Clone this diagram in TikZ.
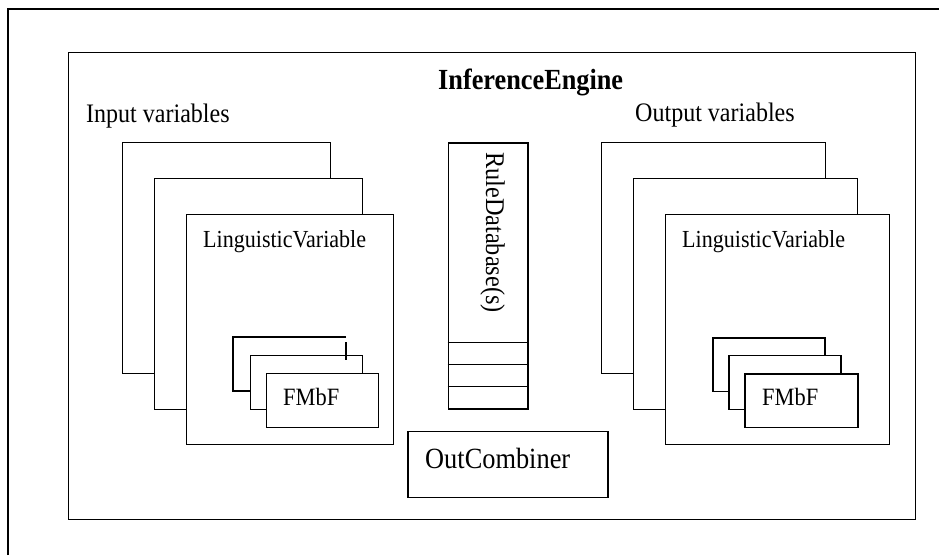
\documentclass[tikz,border=0pt]{standalone}
\usepackage{fontspec}
\setmainfont{Liberation Serif}[FakeStretch=0.9]
\usepackage{tikz}
\usetikzlibrary{positioning, calc}
\tikzset{
  box/.style={rectangle, draw=black, fill=white, line width=1.4pt,
    anchor=north west, inner sep=0pt},
  varbox/.style={box, minimum height=231pt},
  fmbox/.style={box, minimum height=53.5pt},
  line/.style={line width=1.4pt, color=black},
  lbl/.style={inner sep=0pt, anchor=base west, font=\fontsize{26.7}{30}\selectfont},
  smalllbl/.style={lbl, font=\fontsize{24.5}{28}\selectfont}
}
\begin{document}
\begin{tikzpicture}[x=1pt, y=-1pt]
  \useasboundingbox (0,0) rectangle (939,555);
  % outer frame (only left and top edges visible)
  \draw[line] (8,555) -- (8,9) -- (939,9);

  % engine
  \node[box, minimum width=847pt, minimum height=467pt] (engine) at (68,52) {};
  \node[lbl, font=\fontsize{29.2}{32}\selectfont\bfseries] (title) at (438,89) {InferenceEngine};
  \node[lbl] (inlbl) at (86,122) {Input variables};
  \node[lbl] (outlbl) at (635,121) {Output variables};

  % input variables
  \node[varbox, minimum width=208pt] (in1) at (122,142) {};
  \node[varbox, minimum width=208pt] (in2) at (154,178) {};
  \node[varbox, minimum width=207pt, minimum height=230pt] (in3) at (186,214) {};
  \node[smalllbl] (inname) at (203,247) {LinguisticVariable};
  \draw[line] (346,337) -- (233,337) -- (233,391) -- (250,391);
  \node[fmbox, minimum width=112pt] (infm2) at (250,355) {};
  \draw[line] (346,342) -- (346,360);
  \node[fmbox, minimum width=112pt] (infm3) at (266,373) {};
  \node[smalllbl, font=\fontsize{24.9}{28}\selectfont] (infmlbl) at (283,405) {FMbF};

  % rule database
  \node[box, minimum width=79.6pt, minimum height=266pt] (rule) at (447.7,142.3) {};
  \foreach \y in {342.3,364.3,386.7}
    \draw[line] (rule.west |- 0,\y) -- (rule.east |- 0,\y);
  \node[lbl, rotate=-90, font=\fontsize{27}{30}\selectfont] (rulelbl) at (486,152) {RuleDatabase(s)};

  % out combiner
  \node[box, minimum width=200pt, minimum height=66pt] (comb) at (407.3,430.7) {};
  \node[lbl, font=\fontsize{29.3}{32}\selectfont] (comblbl) at (425,468) {OutCombiner};

  % output variables
  \node[varbox, minimum width=224pt] (out1) at (600.7,142) {};
  \node[varbox, minimum width=224pt] (out2) at (632.7,178) {};
  \node[varbox, minimum width=224pt, minimum height=230pt] (out3) at (664.7,214) {};
  \node[smalllbl] (outname) at (682,247) {LinguisticVariable};
  \node[fmbox, minimum width=112pt] (outfm1) at (712.3,337.3) {};
  \node[fmbox, minimum width=112pt] (outfm2) at (728.3,355) {};
  \node[fmbox, minimum width=113pt] (outfm3) at (744.3,373.3) {};
  \node[smalllbl, font=\fontsize{24.9}{28}\selectfont] (outfmlbl) at (762,405) {FMbF};
\end{tikzpicture}
\end{document}
